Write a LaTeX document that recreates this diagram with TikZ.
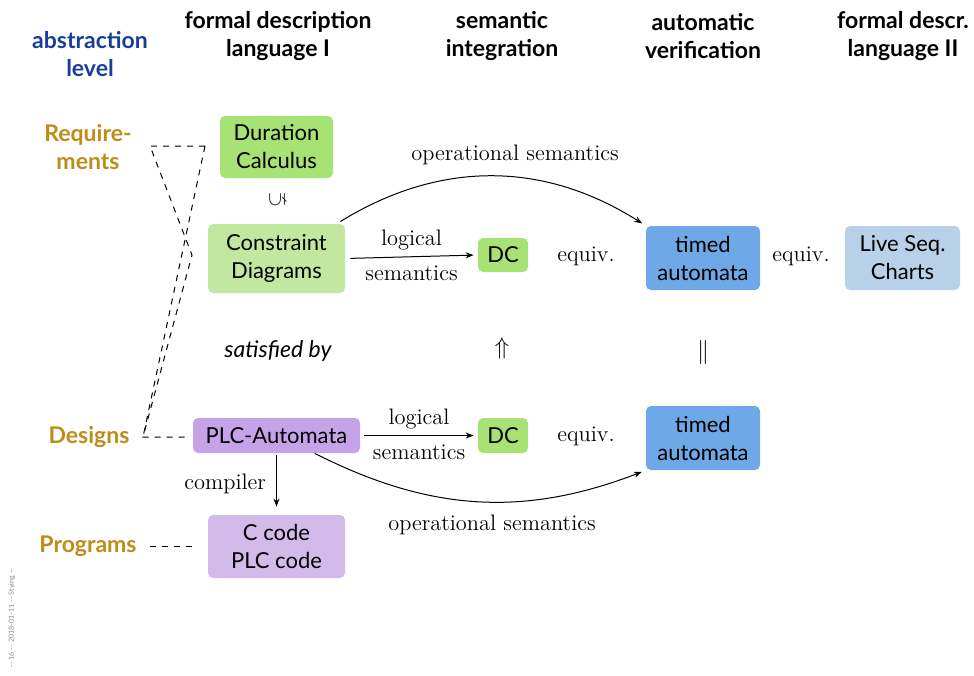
\documentclass[tikz,border=0pt]{standalone}
\usepackage{amssymb}
\usepackage{graphicx}
\usepackage{fontspec}
\newfontfamily\slidefont{Lato}
\usetikzlibrary{arrows.meta}

\definecolor{dcgreen}{RGB}{166,226,116}
\definecolor{cdgreen}{RGB}{194,232,160}
\definecolor{tablue}{RGB}{110,168,230}
\definecolor{lscblue}{RGB}{184,208,232}
\definecolor{plcpurple}{RGB}{198,162,232}
\definecolor{codepurple}{RGB}{212,186,232}
\definecolor{levelblue}{RGB}{26,61,154}
\definecolor{levelgold}{RGB}{190,140,24}

\tikzset{
  box/.style={rounded corners=2.5pt, align=center, inner sep=0pt,
    font=\slidefont\fontsize{11}{14}\selectfont},
  head/.style={align=center, font=\slidefont\bfseries\fontsize{11.5}{14}\selectfont},
  level/.style={align=center, text=levelgold, font=\slidefont\bfseries\fontsize{11.5}{14}\selectfont},
  lbl/.style={font=\fontsize{11.2}{13}\selectfont, inner sep=1pt},
  rel/.style={font=\fontsize{13}{15}\selectfont},
  conn/.style={-{Stealth[length=4pt,width=3pt]}, line width=0.5pt},
  guide/.style={dashed, dash pattern=on 3pt off 3pt, line width=0.5pt}
}

\begin{document}
\begin{tikzpicture}[x=0.5pt,y=-0.5pt]
\useasboundingbox (0,0) rectangle (974,675);

% column headings
\node[head, text=levelblue] (hlevel) at (90,54) {abstraction\\level};
\node[head] (hlang1) at (278,36) {formal description\\language I};
\node[head] (hsem)   at (502,36) {semantic\\integration};
\node[head] (hver)   at (703,36) {automatic\\verification};
\node[head] (hlang2) at (903,36) {formal descr.\\language II};

% abstraction levels
\node[level] (req)  at (88,147)  {Require-\\ments};
\node[level] (des)  at (89,437)  {Designs};
\node[level] (prog) at (88,546)  {Programs};

% formalisms
\node[box, fill=dcgreen, minimum width=56.5pt, minimum height=31pt] (dcalc) at (276.5,147) {Duration\\Calculus};
\node[box, fill=cdgreen, minimum width=68.5pt, minimum height=34.5pt] (cd) at (276.5,258.5) {Constraint\\Diagrams};
\node[box, fill=dcgreen, minimum width=25pt, minimum height=17pt] (dcone) at (503,255) {DC};
\node[box, fill=dcgreen, minimum width=25pt, minimum height=17.5pt] (dctwo) at (503,435.5) {DC};
\node[box, fill=tablue, minimum width=57pt, minimum height=32pt] (taone) at (703,258) {timed\\automata};
\node[box, fill=tablue, minimum width=57pt, minimum height=32pt] (tatwo) at (703,438) {timed\\automata};
\node[box, fill=lscblue, minimum width=57.5pt, minimum height=32pt] (lsc) at (902.5,258) {Live Seq.\\Charts};
\node[box, fill=plcpurple, minimum width=83.5pt, minimum height=17.5pt] (plc) at (276.5,435.5) {PLC-Automata};
\node[box, fill=codepurple, minimum width=68.5pt, minimum height=31.5pt] (code) at (276.5,546.5) {C code\\PLC code};

% relations between formalisms
\node (incl) at (277,200) {\rotatebox{90}{$\subsetneq$}};
\node[font=\slidefont\itshape\fontsize{11.5}{14}\selectfont] (sat) at (278,351) {satisfied by};
\node[rel] (impl) at (502,348) {$\Uparrow$};
\node[rel] (same) at (703,352) {$\|$};
\node[lbl] (eqone) at (586,256) {equiv.};
\node[lbl] (eqtwo) at (586,436) {equiv.};
\node[lbl] (eqthree) at (801,256) {equiv.};

% logical semantics
\draw[conn, shorten <=2.5pt, shorten >=2pt] (cd.east) -- (dcone.west)
  node[lbl, midway, above=2pt] {logical}
  node[lbl, midway, below=3.5pt] {semantics};
\draw[conn, shorten <=2pt, shorten >=2pt] (plc.east) -- (dctwo.west)
  node[lbl, midway, above=2pt] {logical}
  node[lbl, midway, below=3.5pt] {semantics};

% operational semantics
\draw[conn, shorten <=2pt, shorten >=2pt] (cd.30) to[bend left=32] (taone.north west);
\node[lbl] (opone) at (515,155) {operational semantics};
\draw[conn, shorten >=2pt] (plc.-25) to[bend right=24] (tatwo.south west);
\node[lbl] (optwo) at (492,525) {operational semantics};

% compiler
\draw[conn, shorten <=1pt, shorten >=4pt] (plc.south) -- (code.north)
  node[lbl, midway, left=4pt] {compiler};

% dashed guides from the levels
\coordinate (reqa) at (205,146);
\coordinate (reqb) at (150,146);
\coordinate (reqc) at (192,255);
\coordinate (desa) at (143,437);
\coordinate (desb) at (190,437);
\coordinate (proga) at (150,546);
\coordinate (progb) at (195,546);
\draw[guide] (reqa) -- (reqb) -- (reqc) -- (desa) -- (desb);
\draw[guide] (reqa) -- (desa);
\draw[guide] (proga) -- (progb);

% footer
\node[rotate=90, text=black!45, font=\slidefont\fontsize{3.6}{4}\selectfont] (foot) at (12,618) {-- 16 -- 2018-01-11 -- Stying --};
\end{tikzpicture}
\end{document}
